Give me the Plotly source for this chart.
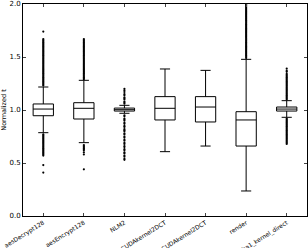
import plotly.graph_objects as go

categories = ["aesDecrypt128", "aesEncrypt128", "NLM2", "CUDAkernel2DCT",
              "CUDAkernel2DCT", "render", "sha1_kernel_direct"]
lower_whisker = [0.786, 0.692, 0.969, 0.607, 0.660, 0.236, 0.931]
q1 = [0.946, 0.915, 0.990, 0.906, 0.887, 0.660, 0.990]
median = [1.009, 1.016, 1.003, 1.016, 1.028, 0.906, 1.009]
q3 = [1.057, 1.069, 1.018, 1.126, 1.126, 0.984, 1.028]
upper_whisker = [1.217, 1.280, 1.044, 1.387, 1.374, 1.478, 1.088]

out_aes_dec = [1.74, 1.67, 1.66, 1.65, 1.64, 1.63, 1.62, 1.61, 1.60, 1.59, 1.58,
               1.57, 1.56, 1.55, 1.54, 1.53, 1.52, 1.51, 1.50, 1.49, 1.48, 1.47,
               1.46, 1.45, 1.44, 1.43, 1.42, 1.41, 1.40, 1.39, 1.38, 1.37, 1.36,
               1.35, 1.34, 1.33, 1.32, 1.31, 1.30, 1.29, 1.28, 1.27, 1.26, 1.25,
               1.24, 1.23, 0.77, 0.76, 0.75, 0.74, 0.73, 0.72, 0.71, 0.70, 0.69,
               0.68, 0.67, 0.66, 0.65, 0.64, 0.63, 0.62, 0.61, 0.60, 0.59, 0.58,
               0.57, 0.48, 0.41]
out_aes_enc = [1.67, 1.66, 1.65, 1.64, 1.63, 1.62, 1.61, 1.60, 1.59, 1.58, 1.57,
               1.56, 1.55, 1.54, 1.53, 1.52, 1.51, 1.50, 1.49, 1.48, 1.47, 1.46,
               1.45, 1.44, 1.43, 1.42, 1.41, 1.40, 1.39, 1.38, 1.37, 1.36, 1.35,
               1.34, 1.33, 1.32, 1.31, 1.30, 1.29, 0.67, 0.66, 0.65, 0.64, 0.63,
               0.62, 0.60, 0.58, 0.44]
out_nlm2 = [1.20, 1.185, 1.17, 1.15, 1.14, 1.12, 1.11, 1.10, 1.08, 1.07, 1.06,
            0.95, 0.94, 0.92, 0.91, 0.90, 0.88, 0.87, 0.85, 0.84, 0.82, 0.81,
            0.80, 0.78, 0.77, 0.75, 0.74, 0.72, 0.71, 0.69, 0.68, 0.66, 0.65,
            0.63, 0.62, 0.60, 0.59, 0.57, 0.56, 0.54, 0.53]
out_render = [2.00, 1.99, 1.98, 1.97, 1.96, 1.95, 1.94, 1.93, 1.92, 1.91, 1.90,
              1.89, 1.88, 1.87, 1.86, 1.85, 1.84, 1.83, 1.82, 1.81, 1.80, 1.79,
              1.78, 1.77, 1.76, 1.75, 1.74, 1.73, 1.72, 1.71, 1.70, 1.69, 1.68,
              1.67, 1.66, 1.65, 1.64, 1.63, 1.62, 1.61, 1.60, 1.59, 1.58, 1.57,
              1.56, 1.55, 1.54, 1.53, 1.52, 1.51, 1.50, 1.49]
out_sha1 = [1.39, 1.37, 1.36, 1.34, 1.33, 1.32, 1.31, 1.30, 1.29, 1.28, 1.27,
            1.26, 1.25, 1.24, 1.23, 1.22, 1.21, 1.20, 1.19, 1.18, 1.17, 1.16,
            1.15, 1.14, 1.13, 1.12, 1.11, 1.10, 0.92, 0.91, 0.90, 0.89, 0.88,
            0.87, 0.86, 0.85, 0.84, 0.83, 0.82, 0.81, 0.80, 0.79, 0.78, 0.77,
            0.76, 0.75, 0.74, 0.73, 0.72, 0.71, 0.70, 0.69, 0.68]
outliers = [out_aes_dec, out_aes_enc, out_nlm2, [], [], out_render, out_sha1]

positions = list(range(1, len(categories) + 1))

fig = go.Figure()
fig.add_trace(go.Box(
    x=positions, q1=q1, median=median, q3=q3,
    lowerfence=lower_whisker, upperfence=upper_whisker,
    width=0.5, whiskerwidth=0.5, boxpoints=False,
    fillcolor="white", line=dict(color="black", width=1),
    showlegend=False, hoverinfo="skip",
))
ox, oy = [], []
for p, vals in zip(positions, outliers):
    ox += [p] * len(vals)
    oy += vals
fig.add_trace(go.Scatter(
    x=ox, y=oy, mode="markers",
    marker=dict(color="black", size=2.2, symbol="circle", line=dict(width=0)),
    showlegend=False, hoverinfo="skip", cliponaxis=True,
))

fig.update_layout(
    width=308, height=248,
    margin=dict(l=23, r=1, t=4, b=32),
    paper_bgcolor="white", plot_bgcolor="white",
    font=dict(family="DejaVu Sans", color="black"),
)
fig.update_xaxes(
    range=[0.5, 7.5], tickvals=positions, ticktext=categories,
    tickangle=-32, tickfont=dict(size=6), ticks="inside", ticklen=3,
    showline=True, linecolor="black", linewidth=1, mirror="ticks",
    showgrid=False, zeroline=False, automargin=False,
)
fig.update_yaxes(
    range=[0, 2.0], tickvals=[0, 0.5, 1.0, 1.5, 2.0],
    ticktext=["0.0", "0.5", "1.0", "1.5", "2.0"], tickfont=dict(size=7),
    ticks="inside", ticklen=3,
    showline=True, linecolor="black", linewidth=1, mirror="ticks",
    showgrid=False, zeroline=False, automargin=False,
    title=dict(text="Normalized t", font=dict(size=6.5), standoff=2),
)
fig.write_html("out.html", config={"displayModeBar": False},
               post_script="document.body.style.margin='0';document.body.style.overflow='hidden';")
